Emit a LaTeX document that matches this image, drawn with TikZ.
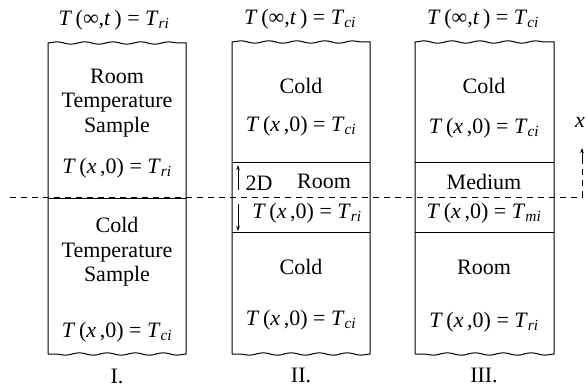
\documentclass[tikz,border=0pt]{standalone}
\usepackage{fontspec}
\setmainfont{Liberation Serif}
\usetikzlibrary{decorations.pathmorphing,arrows.meta}
\newcommand{\Teq}[2]{\textit{T}\,(#1) = \textit{T}\textsubscript{\textit{#2}}}
\begin{document}
\begin{tikzpicture}[x=1pt,y=-1pt,
  every node/.style={font=\fontsize{22}{24.5}\selectfont, inner sep=0pt, align=center},
  wavy/.style={decorate, decoration={snake, amplitude=1.2pt, segment length=28pt}},
  box/.style={line width=1pt},
  axis/.style={line width=0.8pt, dash pattern=on 6pt off 5pt},
  tip/.style={line width=0.8pt, -{Stealth[length=5pt,width=3.5pt]}}]
\useasboundingbox (0,0) rectangle (588,387);

% dashed reference line and x axis
\coordinate (d0) at (10,197);
\coordinate (d1) at (582,197);
\coordinate (d2) at (582,163);
\coordinate (d3) at (582,148);
\draw[axis] (d0) -- (d1) -- (d2);
\draw[tip] (d2) -- (d3);
\node (xl) at (580,122) {\textit{x}};

% Box I
\draw[box] (48,354) -- (48,43) decorate[wavy]{-- (186,43)} -- (186,354) decorate[wavy]{-- (48,354)};
\draw[box] (48,199) -- (186,199);
\node (t1) at (114,20) {\Teq{∞,\textit{t}\,}{ri}};
\node (r1) at (117,103) {Room\\Temperature\\Sample};
\node (r1e) at (117,168) {\Teq{\textit{x}\,,0}{ri}};
\node (c1) at (117,252) {Cold\\Temperature\\Sample};
\node (c1e) at (117,332) {\Teq{\textit{x}\,,0}{ci}};
\node (l1) at (117,376) {I.};

% Box II
\draw[box] (232,354) -- (232,42) decorate[wavy]{-- (370,42)} -- (370,354) decorate[wavy]{-- (232,354)};
\draw[box] (232,163) -- (370,163);
\draw[box] (232,232) -- (370,232);
\node (t2) at (300,19) {\Teq{∞,\textit{t}\,}{ci}};
\node (c2) at (301,86) {Cold};
\node (c2e) at (301,126) {\Teq{\textit{x}\,,0}{ci}};
\node (r2) at (324,181) {Room};
\node (d2l) at (259,183) {2D};
\node (r2e) at (307,213) {\Teq{\textit{x}\,,0}{ri}};
\node (c2b) at (301,267) {Cold};
\node (c2be) at (301,320) {\Teq{\textit{x}\,,0}{ci}};
\node (l2) at (301,375) {II.};
\coordinate (a0) at (238,190);
\coordinate (a1) at (238,165);
\coordinate (b0) at (238,204);
\coordinate (b1) at (238,231);
\draw[tip] (a0) -- (a1);
\draw[tip] (b0) -- (b1);

% Box III
\draw[box] (415,354) -- (415,42) decorate[wavy]{-- (554,42)} -- (554,354) decorate[wavy]{-- (415,354)};
\draw[box] (415,163) -- (554,163);
\draw[box] (415,232) -- (554,232);
\node (t3) at (483,19) {\Teq{∞,\textit{t}\,}{ci}};
\node (c3) at (484,86) {Cold};
\node (c3e) at (484,128) {\Teq{\textit{x}\,,0}{ci}};
\node (m3) at (484,182) {Medium};
\node (m3e) at (484,213) {\Teq{\textit{x}\,,0}{mi}};
\node (r3) at (484,267) {Room};
\node (r3e) at (484,322) {\Teq{\textit{x}\,,0}{ri}};
\node (l3) at (484,375) {III.};
\end{tikzpicture}
\end{document}
